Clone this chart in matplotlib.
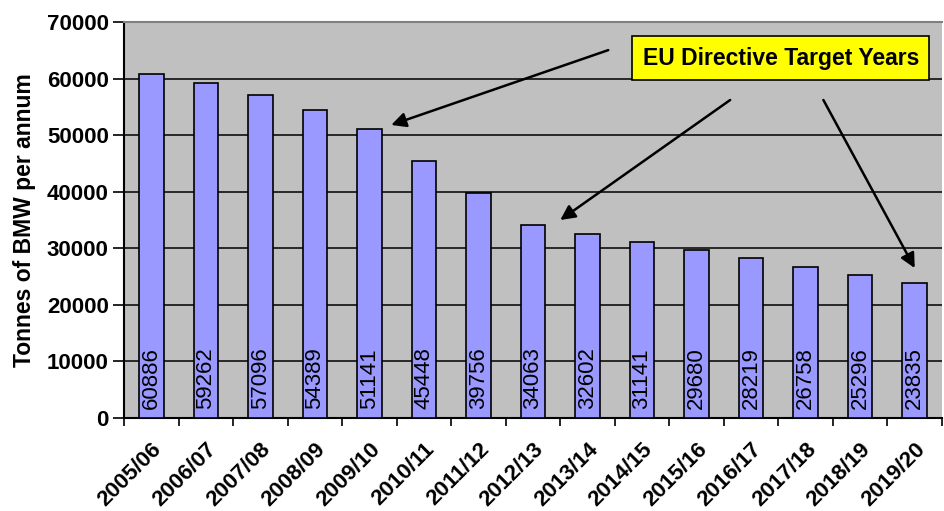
import matplotlib.pyplot as plt
import numpy as np

plt.rcParams['font.family'] = ['Liberation Sans', 'DejaVu Sans']

years = ['2005/06', '2006/07', '2007/08', '2008/09', '2009/10', '2010/11', '2011/12',
         '2012/13', '2013/14', '2014/15', '2015/16', '2016/17', '2017/18', '2018/19', '2019/20']
tonnes = [60886, 59262, 57096, 54389, 51141, 45448, 39756,
          34063, 32602, 31141, 29680, 28219, 26758, 25296, 23835]

fig = plt.figure(figsize=(9.44, 5.11), dpi=100)
ax = fig.add_axes([124 / 944, 93 / 511, 818 / 944, 396 / 511])
ax.set_facecolor('#C0C0C0')

x = np.arange(len(years))
ax.bar(x, tonnes, width=0.45, color='#9999FF', edgecolor='black', linewidth=1.2, zorder=3)

for xi, v in zip(x, tonnes):
    ax.text(xi, 1600, str(v), rotation=90, ha='center', va='bottom',
            fontsize=16, zorder=4)

ax.set_xlim(-0.5, len(years) - 0.5)
ax.set_ylim(0, 70000)
ax.set_yticks(np.arange(0, 70001, 10000))
ax.yaxis.grid(True, color='black', linewidth=1.1, zorder=0)
ax.set_axisbelow(True)

ax.set_xticks(x)
ax.set_xticklabels(years, rotation=45, ha='right', rotation_mode='anchor',
                   fontsize=16, fontweight='bold')
ax.tick_params(axis='x', which='major', length=0, pad=15)
ax.set_xticks(np.arange(-0.5, len(years), 1), minor=True)
ax.tick_params(axis='x', which='minor', length=6, width=1.2, direction='out')
ax.tick_params(axis='y', length=8, width=1.2, labelsize=16, pad=3)
for lab in ax.get_yticklabels():
    lab.set_fontweight('bold')

ax.set_ylabel('Tonnes of BMW per annum', fontsize=16.5, fontweight='bold', labelpad=8)

for side in ['left', 'bottom']:
    ax.spines[side].set_linewidth(1.5)
ax.spines['top'].set_color('#808080')
ax.spines['top'].set_linewidth(1.5)
ax.spines['right'].set_visible(False)

# callout box with arrows
ax.text(0.803, 0.909, 'EU Directive Target Years', transform=ax.transAxes,
        ha='center', va='center', fontsize=16.5, fontweight='bold', zorder=6,
        bbox=dict(boxstyle='square,pad=0.45', facecolor='yellow', edgecolor='black', linewidth=1.2))

tails = [(0.592, 0.929), (0.741, 0.803), (0.855, 0.803)]
tips = [(4.4, 51800), (7.5, 35000), (14.0, 26500)]
for (tx, ty), tip in zip(tails, tips):
    ax.annotate('', xy=tip, xycoords='data', xytext=(tx, ty), textcoords='axes fraction',
                arrowprops=dict(arrowstyle='-|>', color='black', lw=1.8,
                                mutation_scale=22, shrinkA=0, shrinkB=0), zorder=5)

fig.savefig('out.png', dpi=100)
